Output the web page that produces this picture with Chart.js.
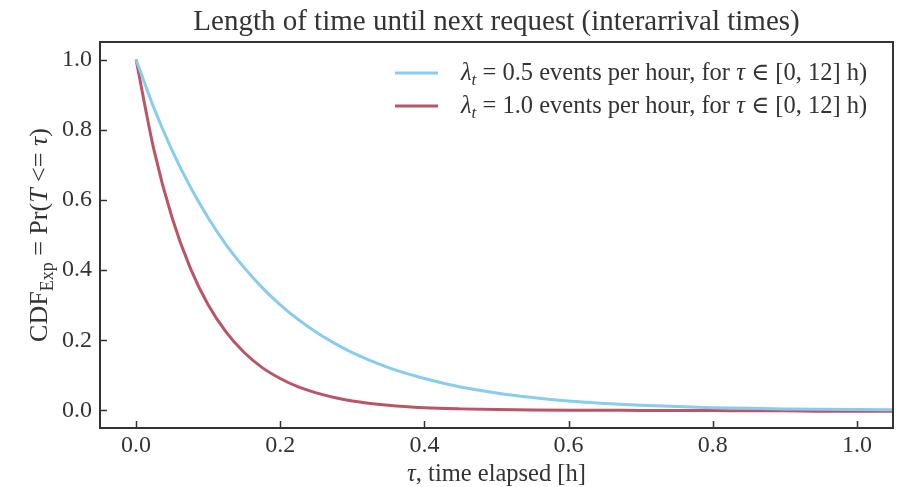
<!DOCTYPE html>
<html>
<head>
<meta charset="utf-8">
<script src="https://cdn.jsdelivr.net/npm/chart.js@4"></script>
<style>
  html, body { margin: 0; padding: 0; background: #fff; }
  #wrap { width: 905px; height: 487px; }
</style>
</head>
<body>
<div id="wrap"><canvas id="cdfChart" width="905" height="487"></canvas></div>
<script>
// elapsed time tau [h] and the two curves read at those times
const taus = [0, 0.025, 0.05, 0.075, 0.1, 0.125, 0.15, 0.175, 0.2, 0.225, 0.25, 0.275, 0.3,
  0.35, 0.4, 0.45, 0.5, 0.55, 0.6, 0.65, 0.7, 0.75, 0.8, 0.85, 0.9, 0.95, 1.0, 1.05];
const cdfHalf = [1.0, 0.861, 0.741, 0.638, 0.549, 0.472, 0.407, 0.350, 0.301, 0.259, 0.223, 0.192, 0.165,
  0.122, 0.091, 0.067, 0.050, 0.037, 0.027, 0.020, 0.015, 0.011, 0.008, 0.006, 0.0045, 0.0033, 0.0025, 0.0018];
const cdfOne = [1.0, 0.741, 0.549, 0.407, 0.301, 0.223, 0.165, 0.122, 0.091, 0.067, 0.050, 0.037, 0.027,
  0.015, 0.008, 0.0045, 0.0025, 0.0013, 0.0007, 0.0004, 0.0002, 0.0, 0.0, -0.001, -0.001, -0.002, -0.002, -0.002];
const tickValues = [0, 0.2, 0.4, 0.6, 0.8, 1.0];

const SERIF = '"Liberation Serif", "DejaVu Serif", serif';
const INK = "#333333";
const BLUE = "#88CCEE";
const RED = "#BB5566";

// draws a list of [text, style] runs; style: r upright, i italic, s / si subscript
function drawRich(ctx, parts, x, y, size, align) {
  const sub = Math.round(size * 0.7);
  const fontOf = (st) => {
    const sz = st[0] === "s" ? sub : size;
    const it = st === "i" || st === "si" ? "italic " : "";
    return `${it}${sz}px ${SERIF}`;
  };
  let total = 0;
  parts.forEach(([t, st]) => { ctx.font = fontOf(st); total += ctx.measureText(t).width; });
  let cx = align === "center" ? x - total / 2 : x;
  ctx.textAlign = "left";
  ctx.textBaseline = "alphabetic";
  parts.forEach(([t, st]) => {
    ctx.font = fontOf(st);
    const dy = st[0] === "s" ? size * 0.22 : 0;
    ctx.fillText(t, cx, y + dy);
    cx += ctx.measureText(t).width;
  });
}

const decor = {
  id: "decor",
  afterDatasetsDraw(chart) {
    const { ctx, chartArea: a, scales } = chart;
    ctx.save();
    ctx.strokeStyle = INK;
    ctx.lineWidth = 1.5;
    ctx.beginPath();
    tickValues.forEach((v) => {
      const px = Math.round(scales.x.getPixelForValue(v)) + 0.5;
      ctx.moveTo(px, a.bottom);
      ctx.lineTo(px, a.bottom - 7);
      const py = Math.round(scales.y.getPixelForValue(v)) + 0.5;
      ctx.moveTo(a.left, py);
      ctx.lineTo(a.left + 7, py);
    });
    ctx.stroke();
    ctx.lineWidth = 2;
    ctx.strokeRect(a.left, a.top, a.right - a.left, a.bottom - a.top);
    ctx.restore();
  },
  afterDraw(chart) {
    const { ctx, chartArea: a } = chart;
    const mid = (a.left + a.right) / 2;
    ctx.save();
    ctx.fillStyle = INK;

    drawRich(ctx, [["Length of time until next request (interarrival times)", "r"]], mid, 30, 29, "center");

    // legend
    const rows = [
      { color: BLUE, rate: "0.5", y: 73 },
      { color: RED, rate: "1.0", y: 106 },
    ];
    rows.forEach((r) => {
      ctx.strokeStyle = r.color;
      ctx.lineWidth = 3;
      ctx.beginPath();
      ctx.moveTo(395, r.y);
      ctx.lineTo(438, r.y);
      ctx.stroke();
      ctx.fillStyle = INK;
      drawRich(ctx, [
        ["λ", "i"], ["t", "si"], [" = " + r.rate + " events per hour, for ", "r"],
        ["τ", "i"], [" ∈ [0, 12] h)", "r"],
      ], 461, r.y + 7, 24.5, "left");
    });

    // axis titles
    drawRich(ctx, [["τ", "i"], [", time elapsed [h]", "r"]], mid, 481, 24.5, "center");
    ctx.translate(47, (a.top + a.bottom) / 2);
    ctx.rotate(-Math.PI / 2);
    drawRich(ctx, [
      ["CDF", "r"], ["Exp", "s"], [" = Pr(", "r"], ["T", "i"], [" <= ", "r"], ["τ", "i"], [")", "r"],
    ], 0, 0, 26, "center");
    ctx.restore();
  },
};

const tickFont = { family: SERIF, size: 24 };

new Chart(document.getElementById("cdfChart"), {
  type: "line",
  data: {
    datasets: [
      {
        label: "λt = 0.5 events per hour",
        data: taus.map((t, i) => ({ x: t, y: cdfHalf[i] })),
        borderColor: BLUE,
        borderWidth: 3,
        pointRadius: 0,
        cubicInterpolationMode: "monotone",
      },
      {
        label: "λt = 1.0 events per hour",
        data: taus.map((t, i) => ({ x: t, y: cdfOne[i] })),
        borderColor: RED,
        borderWidth: 3,
        pointRadius: 0,
        cubicInterpolationMode: "monotone",
      },
    ],
  },
  options: {
    responsive: false,
    animation: false,
    layout: { padding: { left: 0, top: 42, right: 12, bottom: 0 } },
    plugins: { legend: { display: false }, tooltip: { enabled: false }, title: { display: false } },
    scales: {
      x: {
        type: "linear",
        min: -0.05,
        max: 1.05,
        grid: { display: false, drawTicks: false },
        border: { display: false },
        afterBuildTicks: (s) => { s.ticks = tickValues.map((v) => ({ value: v })); },
        afterFit: (s) => { s.height = 59; },
        ticks: { font: tickFont, color: INK, padding: 3, maxRotation: 0, callback: (v) => v.toFixed(1) },
      },
      y: {
        min: -0.05,
        max: 1.05,
        grid: { display: false, drawTicks: false },
        border: { display: false },
        afterBuildTicks: (s) => { s.ticks = tickValues.map((v) => ({ value: v })); },
        afterFit: (s) => { s.width = 100; },
        ticks: { font: tickFont, color: INK, padding: 8, callback: (v) => v.toFixed(1) },
      },
    },
  },
  plugins: [decor],
});
</script>
</body>
</html>
